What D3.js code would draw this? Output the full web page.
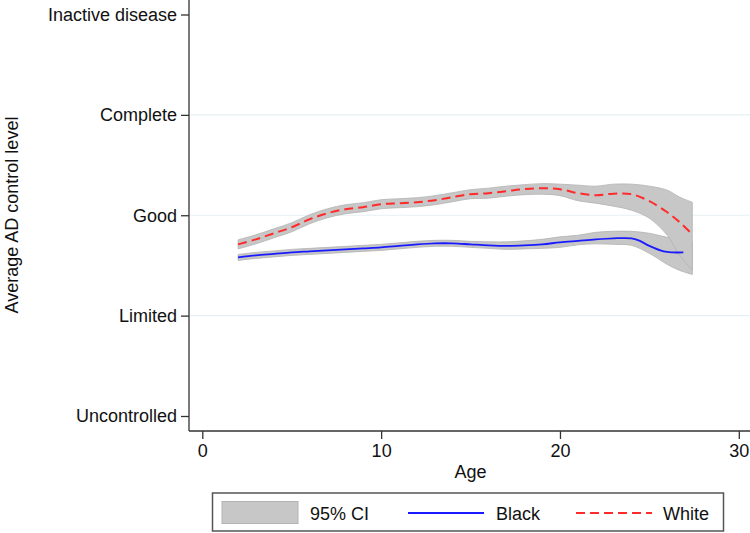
<!DOCTYPE html>
<html>
<head>
<meta charset="utf-8">
<script src="https://cdn.jsdelivr.net/npm/d3@7"></script>
<style>
  body { margin: 0; background: #fff; }
  svg { display: block; font-family: 'Liberation Sans', Arial, Helvetica, sans-serif; }
</style>
</head>
<body>
<svg id="chart" width="750" height="533"></svg>
<script>
/* global d3 */

// control levels on the y axis (0 = Uncontrolled ... 4 = Inactive disease)
const levelLabels = ['Uncontrolled', 'Limited', 'Good', 'Complete', 'Inactive disease'];
const ageTicks = [0, 10, 20, 30];

// White: smoothed mean and 95% CI
const whiteAge = [2, 3, 4, 5, 6, 7, 8, 9, 10, 11, 12, 13, 14, 15, 16, 17, 18, 19, 20, 21, 22, 23, 24, 25, 26, 26.7, 27.4];
const whiteMean = [1.71, 1.76, 1.82, 1.88, 1.96, 2.02, 2.06, 2.08, 2.11, 2.12, 2.13, 2.15, 2.18, 2.21, 2.22, 2.24, 2.26, 2.27, 2.26, 2.22, 2.20, 2.215, 2.21, 2.14, 2.03, 1.93, 1.81];
const whiteUpper = [1.755, 1.805, 1.865, 1.925, 2.005, 2.065, 2.105, 2.125, 2.155, 2.165, 2.175, 2.195, 2.225, 2.255, 2.27, 2.29, 2.305, 2.315, 2.31, 2.30, 2.29, 2.31, 2.31, 2.29, 2.25, 2.18, 2.13];
const whiteLower = [1.665, 1.715, 1.775, 1.835, 1.915, 1.975, 2.015, 2.035, 2.065, 2.075, 2.085, 2.105, 2.135, 2.165, 2.17, 2.19, 2.205, 2.21, 2.195, 2.145, 2.12, 2.09, 2.05, 1.97, 1.80, 1.60, 1.45];

// Black: smoothed mean
const blackAge = [2, 3, 4, 5, 6, 7, 8, 9, 10, 11, 12, 13, 14, 15, 16, 17, 18, 19, 20, 21, 22, 23, 24, 24.4, 25, 25.8, 26.3, 26.9];
const blackMean = [1.58, 1.60, 1.615, 1.63, 1.64, 1.65, 1.66, 1.67, 1.68, 1.695, 1.71, 1.72, 1.72, 1.71, 1.70, 1.695, 1.70, 1.71, 1.73, 1.745, 1.76, 1.77, 1.77, 1.75, 1.695, 1.64, 1.63, 1.63];

// Black: 95% CI
const blackCiAge = [2, 3, 4, 5, 6, 7, 8, 9, 10, 11, 12, 13, 14, 15, 16, 17, 18, 19, 20, 21, 22, 23, 24, 25, 26, 26.7, 27.4];
const blackUpper = [1.61, 1.63, 1.645, 1.66, 1.67, 1.68, 1.69, 1.70, 1.71, 1.725, 1.74, 1.75, 1.75, 1.74, 1.735, 1.735, 1.745, 1.76, 1.785, 1.80, 1.83, 1.84, 1.84, 1.82, 1.78, 1.76, 1.74];
const blackLower = [1.55, 1.57, 1.585, 1.60, 1.61, 1.62, 1.63, 1.64, 1.65, 1.665, 1.68, 1.69, 1.69, 1.68, 1.67, 1.66, 1.665, 1.67, 1.68, 1.705, 1.715, 1.71, 1.70, 1.62, 1.51, 1.45, 1.41];

// settings object
const config = {
  plot: { left: 189, right: 750, top: 0, bottom: 431 },
  x: { from: 202.3, to: 738.8 },
  y: { from: 416, to: 14.5 },
  font: 18,
  ci: { fill: '#c7c7c7', stroke: '#b3b3b3' },
  black: '#1a1aff',
  white: '#ff2b2b',
};

const svg = d3.select('#chart');

const scaleX = d3.scaleLinear()
  .domain([0, 30])
  .range([config.x.from, config.x.to]);

const scaleY = d3.scaleLinear()
  .domain([0, 4])
  .range([config.y.from, config.y.to]);

// gridlines (not at the outer levels)
svg.append('g')
  .selectAll('line')
  .data([1, 2, 3])
  .join('line')
  .attr('x1', config.plot.left)
  .attr('x2', config.plot.right)
  .attr('y1', d => scaleY(d))
  .attr('y2', d => scaleY(d))
  .attr('stroke', '#e6f0f2')
  .attr('stroke-width', 1.2);

// build rows from the arrays
const zipCi = (age, lo, hi) => age.map((a, i) => ({ age: a, lo: lo[i], hi: hi[i] }));
const zipLine = (age, mean) => age.map((a, i) => ({ age: a, v: mean[i] }));

const smooth = d3.curveCatmullRom.alpha(0.5);

const area = d3.area()
  .curve(smooth)
  .x(d => scaleX(d.age))
  .y0(d => scaleY(d.lo))
  .y1(d => scaleY(d.hi));

const line = d3.line()
  .curve(smooth)
  .x(d => scaleX(d.age))
  .y(d => scaleY(d.v));

// confidence bands
[zipCi(blackCiAge, blackLower, blackUpper), zipCi(whiteAge, whiteLower, whiteUpper)].forEach(rows => {
  svg.append('path')
    .datum(rows)
    .attr('d', area)
    .attr('fill', config.ci.fill)
    .attr('stroke', config.ci.stroke)
    .attr('stroke-width', 0.8);
});

// mean lines
svg.append('path')
  .datum(zipLine(blackAge, blackMean))
  .attr('d', line)
  .attr('fill', 'none')
  .attr('stroke', config.black)
  .attr('stroke-width', 1.8);

svg.append('path')
  .datum(zipLine(whiteAge, whiteMean))
  .attr('d', line)
  .attr('fill', 'none')
  .attr('stroke', config.white)
  .attr('stroke-width', 2)
  .attr('stroke-dasharray', '9,5');

// y axis
const yAxis = svg.append('g')
  .attr('transform', `translate(${config.plot.left}, 0)`)
  .call(d3.axisLeft(scaleY)
    .tickValues([0, 1, 2, 3, 4])
    .tickFormat(d => levelLabels[d])
    .tickSize(8)
    .tickPadding(4));

yAxis.select('.domain').attr('d', `M0,${config.plot.top}V${config.plot.bottom}`);

// x axis
const xAxis = svg.append('g')
  .attr('transform', `translate(0, ${config.plot.bottom})`)
  .call(d3.axisBottom(scaleX)
    .tickValues(ageTicks)
    .tickSize(8)
    .tickPadding(5));

xAxis.select('.domain').attr('d', `M${config.plot.left},0H${config.plot.right}`);

[yAxis, xAxis].forEach(ax => {
  ax.select('.domain').attr('stroke', '#333').attr('stroke-width', 1.3);
  ax.selectAll('.tick line').attr('stroke', '#333').attr('stroke-width', 1.3);
  ax.selectAll('.tick text')
    .attr('fill', '#111')
    .style('font-size', `${config.font}px`)
    .style('font-family', "'Liberation Sans', Arial, sans-serif");
});

// axis titles
svg.append('text')
  .text('Age')
  .attr('x', (config.x.from + config.x.to) / 2)
  .attr('y', 478)
  .attr('text-anchor', 'middle')
  .attr('font-size', config.font)
  .attr('fill', '#111');

svg.append('text')
  .text('Average AD control level')
  .attr('transform', `translate(18, 215) rotate(-90)`)
  .attr('text-anchor', 'middle')
  .attr('font-size', config.font)
  .attr('fill', '#111');

// legend
const legend = svg.append('g');

legend.append('rect')
  .attr('x', 212.5)
  .attr('y', 493)
  .attr('width', 511)
  .attr('height', 38)
  .attr('fill', '#fff')
  .attr('stroke', '#555')
  .attr('stroke-width', 1.5);

legend.append('rect')
  .attr('x', 222)
  .attr('y', 501.5)
  .attr('width', 76)
  .attr('height', 22)
  .attr('fill', config.ci.fill)
  .attr('stroke', config.ci.stroke);

legend.append('line')
  .attr('x1', 408).attr('x2', 484)
  .attr('y1', 513).attr('y2', 513)
  .attr('stroke', config.black)
  .attr('stroke-width', 1.8);

legend.append('line')
  .attr('x1', 576).attr('x2', 652)
  .attr('y1', 513).attr('y2', 513)
  .attr('stroke', config.white)
  .attr('stroke-width', 2)
  .attr('stroke-dasharray', '9,5');

legend.selectAll('text.lab')
  .data([['95% CI', 310], ['Black', 496], ['White', 663]])
  .join('text')
  .attr('class', 'lab')
  .text(d => d[0])
  .attr('x', d => d[1])
  .attr('y', 520)
  .attr('font-size', config.font)
  .attr('fill', '#111');
</script>
</body>
</html>
